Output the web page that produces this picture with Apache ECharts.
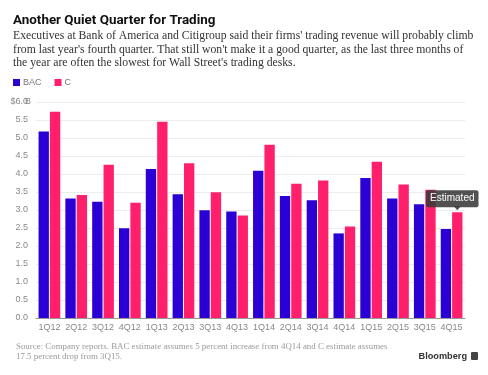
<!DOCTYPE html>
<html>
<head>
<meta charset="utf-8">
<script src="https://cdn.jsdelivr.net/npm/echarts@6/dist/echarts.min.js"></script>
<style>
  html, body { margin: 0; padding: 0; background: #fff; }
  #chart { width: 488px; height: 375px; }
</style>
</head>
<body>
<div id="chart"></div>
<script>
const quarters = ["1Q12", "2Q12", "3Q12", "4Q12", "1Q13", "2Q13", "3Q13", "4Q13",
  "1Q14", "2Q14", "3Q14", "4Q14", "1Q15", "2Q15", "3Q15", "4Q15"];
// trading revenue, $B
const bac = [5.18, 3.32, 3.23, 2.49, 4.14, 3.44, 2.99, 2.96,
  4.09, 3.39, 3.27, 2.35, 3.89, 3.32, 3.16, 2.47];
const citi = [5.73, 3.42, 4.26, 3.20, 5.45, 4.30, 3.49, 2.85,
  4.81, 3.73, 3.82, 2.54, 4.34, 3.71, 3.56, 2.94];
const estimatedIdx = 15;

const BLUE = "#2a00d4";
const PINK = "#ff1f6a";
const TIP = "rgba(58,58,58,0.88)";
const SERIF = "'Liberation Serif', serif";
const SANS = "'Liberation Sans', Arial, sans-serif";

const chart = echarts.init(document.getElementById("chart"), null, { renderer: "canvas" });

chart.setOption({
  backgroundColor: "#fff",
  animation: false,
  title: [
    {
      text: "Another Quiet Quarter for Trading",
      left: 13, top: 14, padding: 0,
      textStyle: { fontFamily: "Roboto, sans-serif", fontSize: 13.4, fontWeight: "bold", color: "#111" }
    },
    {
      text: "Executives at Bank of America and Citigroup said their firms' trading revenue will probably climb\n" +
        "from last year's fourth quarter. That still won't make it a good quarter, as the last three months of\n" +
        "the year are often the slowest for Wall Street's trading desks.",
      left: 13, top: 29, padding: 0,
      textStyle: { fontFamily: SERIF, fontSize: 11.7, fontWeight: "normal", color: "#333", lineHeight: 13.7 }
    },
    {
      text: "Source: Company reports. BAC estimate assumes 5 percent increase from 4Q14 and C estimate assumes\n" +
        "17.5 percent drop from 3Q15.",
      left: 16, top: 342, padding: 0,
      textStyle: { fontFamily: SERIF, fontSize: 8.9, fontWeight: "normal", color: "#999", lineHeight: 9.5 }
    },
    {
      text: "Bloomberg",
      right: 21, top: 352, padding: 0,
      textStyle: { fontFamily: SANS, fontSize: 9.2, fontWeight: "bold", color: "#333" }
    }
  ],
  graphic: [
    { type: "rect", right: 10, top: 352, shape: { width: 7, height: 8, r: 1 }, style: { fill: "#444" } }
  ],
  legend: {
    left: 13, top: 78, padding: 0,
    itemWidth: 7, itemHeight: 7, itemGap: 13,
    icon: "rect",
    textStyle: { fontFamily: SANS, fontSize: 9, color: "#777", padding: [0, 0, 0, -2] },
    data: ["BAC", "C"]
  },
  grid: { left: 36, right: 23, top: 102, bottom: 57 },
  xAxis: {
    type: "category",
    data: quarters,
    axisLine: { lineStyle: { color: "#999", width: 1 } },
    axisTick: { show: false },
    axisLabel: { color: "#888", fontFamily: SANS, fontSize: 9, margin: 5, interval: 0 },
    splitLine: { show: false }
  },
  yAxis: {
    type: "value",
    min: 0, max: 6, interval: 0.5,
    axisLine: { show: false },
    axisTick: { show: false },
    axisLabel: {
      color: "#888", fontFamily: SANS, fontSize: 9, margin: 8,
      formatter: (v) => v === 6 ? "{n|$6.0}{u|B}" : v.toFixed(1),
      rich: {
        n: { color: "#888", fontFamily: SANS, fontSize: 9 },
        u: { color: "#888", fontFamily: SANS, fontSize: 9, width: 0, align: "left" }
      }
    },
    splitLine: { lineStyle: { color: "#ececec", width: 1 } }
  },
  series: [
    {
      name: "BAC",
      type: "bar",
      data: bac,
      barGap: "10%",
      barCategoryGap: "19%",
      itemStyle: { color: BLUE }
    },
    {
      name: "C",
      type: "bar",
      data: citi.map((v, i) => i !== estimatedIdx ? v : {
        value: v,
        label: {
          show: true,
          position: "top",
          distance: 5,
          offset: [-5, 0],
          formatter: "Estimated",
          color: "#fff",
          fontFamily: SANS,
          fontSize: 10,
          lineHeight: 11,
          backgroundColor: TIP,
          padding: [3, 4],
          borderRadius: 2
        }
      }),
      itemStyle: { color: PINK },
      markPoint: {
        silent: true,
        symbol: "triangle",
        symbolRotate: 180,
        symbolSize: [7, 4],
        symbolOffset: [0, -4],
        itemStyle: { color: TIP },
        label: { show: false },
        data: [{ coord: [quarters[estimatedIdx], citi[estimatedIdx]] }]
      }
    }
  ]
});
</script>
</body>
</html>
